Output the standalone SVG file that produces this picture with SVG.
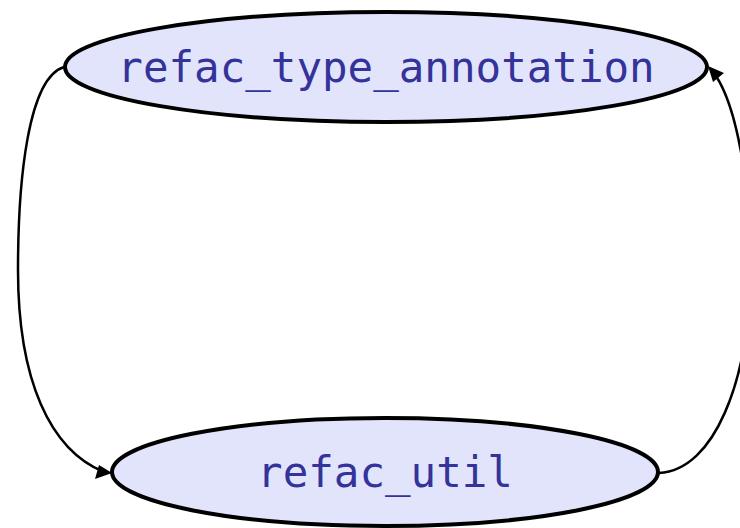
<svg xmlns="http://www.w3.org/2000/svg" width="740" height="528" viewBox="0 0 740 528">
  <style>
    .node ellipse { fill: #e2e4fc; stroke: #000; stroke-width: 4; }
    .node text { font-family: "DejaVu Sans Mono", "Liberation Mono", monospace; font-size: 42.5px; fill: #333399; text-anchor: middle; }
    .edge { fill: none; stroke: #000; stroke-width: 2.5; }
    .head { fill: #000; }
  </style>
  <rect width="740" height="528" fill="#fff"/>
  <g id="connectors">
    <!-- refac_type_annotation -> refac_util -->
    <path class="edge" d="M64,67 C28,78 18,180 18,270 C18,380 50,450 104,472"/>
    <path class="head" d="M112,473 L95,479 L99,465 Z"/>
    <!-- refac_util -> refac_type_annotation -->
    <path class="edge" d="M659,473 C715,470 748,380 750,280 C752,180 735,105 716,76"/>
    <path class="head" d="M708,66 L724,73 L713,82 Z"/>
  </g>
  <g id="refac_type_annotation" class="node">
    <ellipse cx="386" cy="67" rx="321" ry="55"/>
    <text x="386" y="82">refac_type_annotation</text>
  </g>
  <g id="refac_util" class="node">
    <ellipse cx="385" cy="472" rx="273" ry="54"/>
    <text x="385" y="487">refac_util</text>
  </g>
</svg>
